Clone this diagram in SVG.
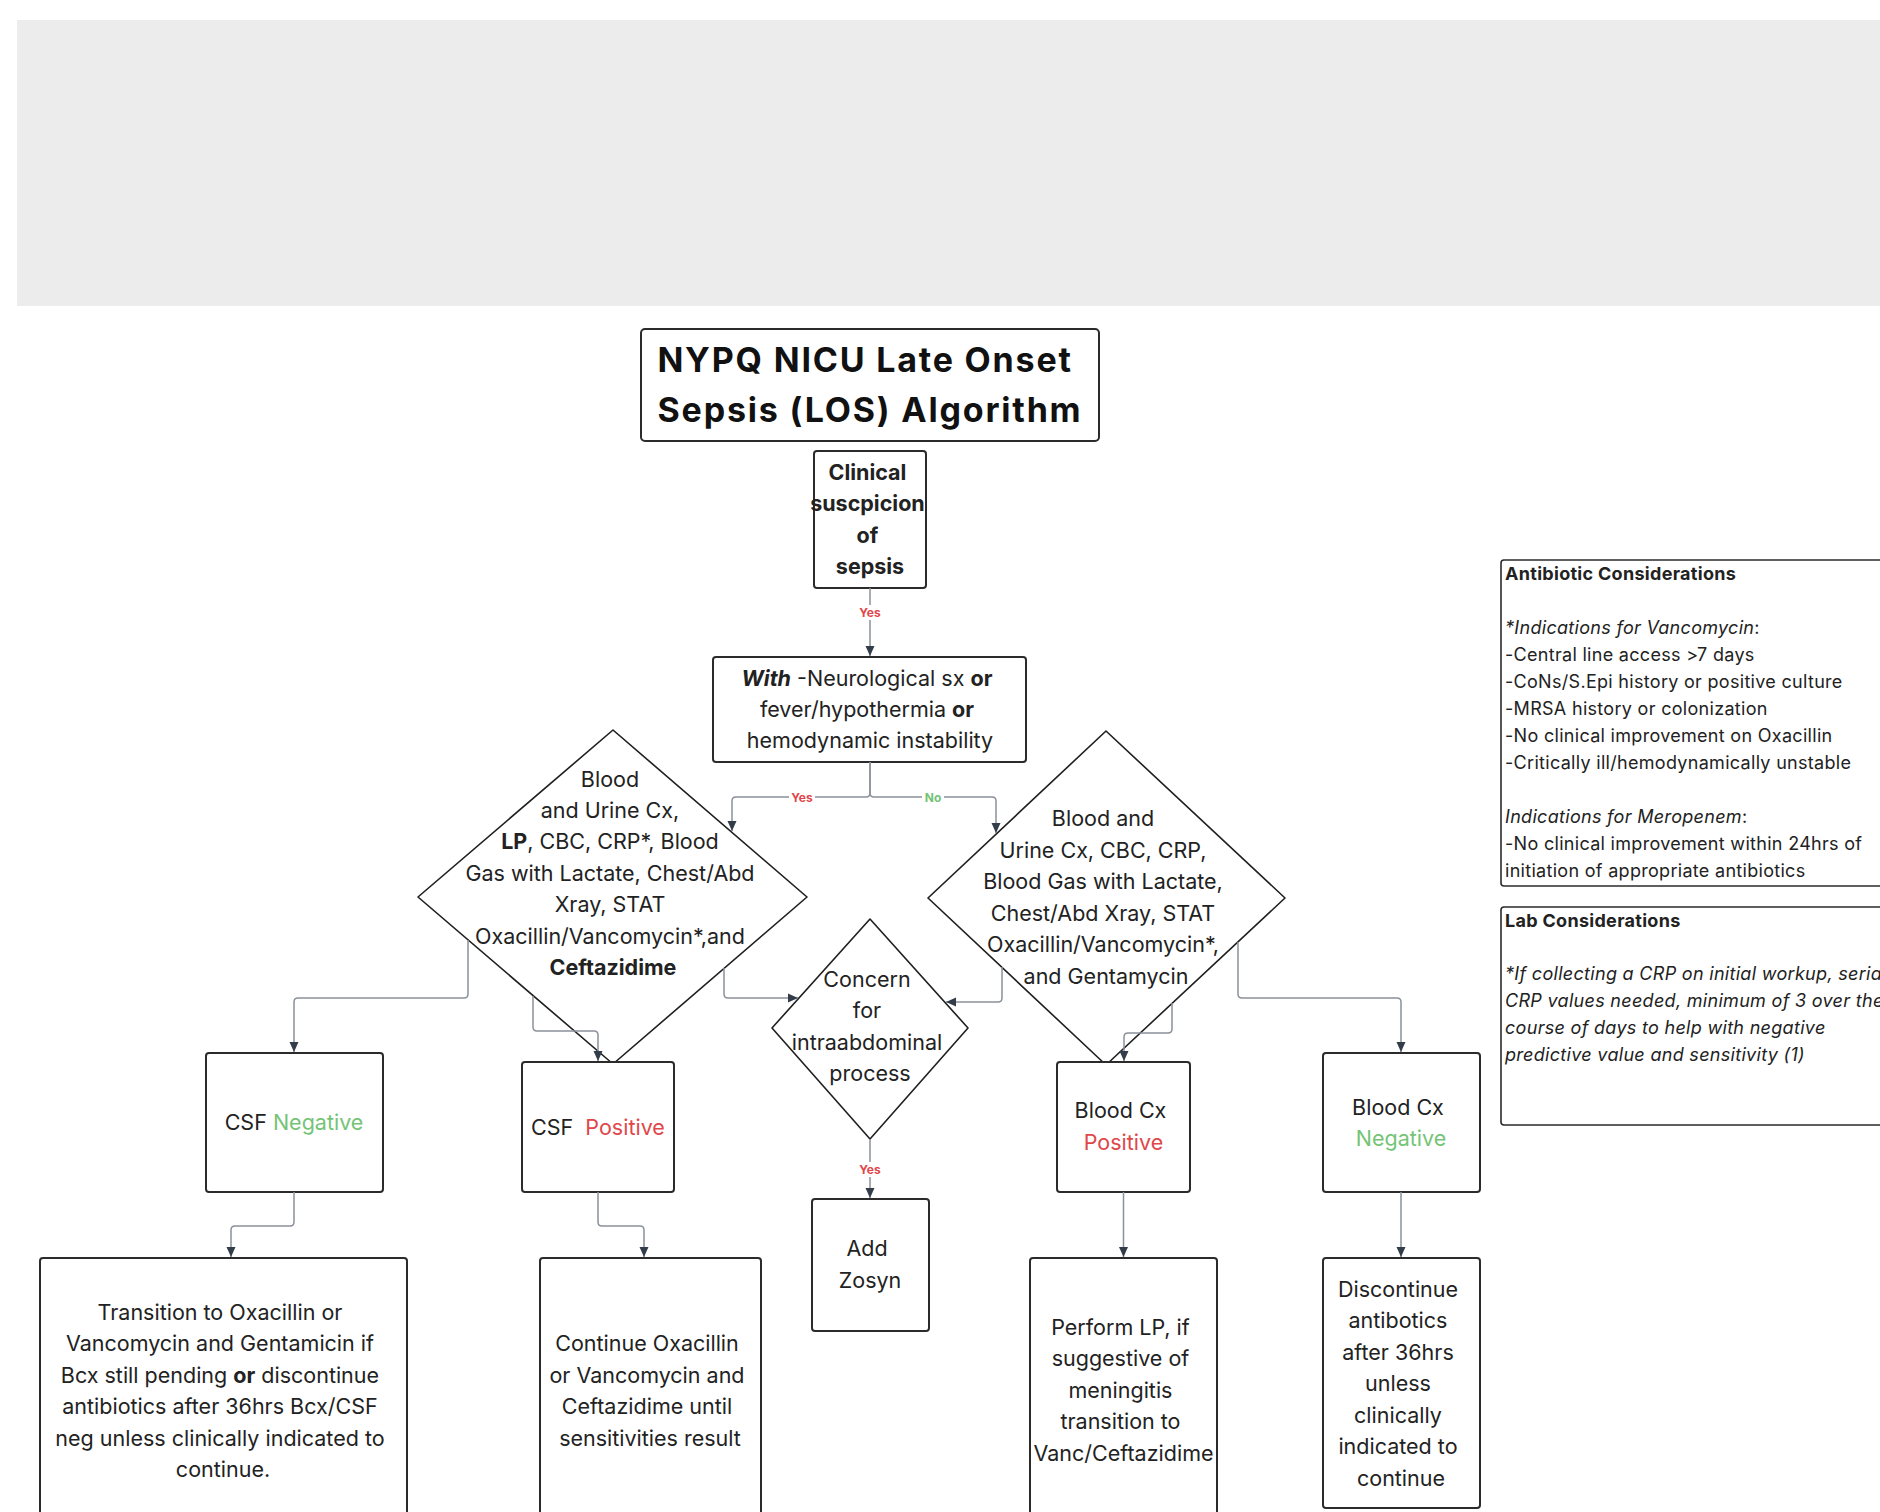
<svg xmlns="http://www.w3.org/2000/svg" width="1880" height="1512" viewBox="0 0 1880 1512">
  <defs>
    <marker id="arrow" markerUnits="userSpaceOnUse" markerWidth="12" markerHeight="12" viewBox="0 0 12 12" refX="11" refY="6" orient="auto">
      <path d="M1,1.5 L11,6 L1,10.5 Z" fill="#333d4a"/>
    </marker>
    <style>
      text { font-family: Inter, "Liberation Sans", sans-serif; fill: #222; }
      .box { fill: #fff; stroke: #2b2b2b; stroke-width: 2; }
      .dia { fill: #fff; stroke: #1f1f1f; stroke-width: 1.6; stroke-linejoin: round; }
      .t20 { font-size: 21.5px; text-anchor: middle; }
      .b { font-weight: 700; }
      .title { font-size: 34px; font-weight: 700; letter-spacing: 1.8px; text-anchor: middle; fill: #111; }
      .note { font-size: 18px; letter-spacing: 0.3px; fill: #222; }
      .it { font-style: italic; }
      .pos { fill: #e0464a; }
      .neg { fill: #74c476; }
      .edge { fill: none; stroke: #8b919a; stroke-width: 1.5; marker-end: url(#arrow); }
      .lbl { font-size: 12px; font-weight: 700; text-anchor: middle; }
      .lblbg { fill: #fff; }
    </style>
  </defs>

  <rect x="0" y="0" width="1880" height="1512" fill="#fff"/>
  <!-- header band -->
  <rect x="17" y="20" width="1863" height="286" fill="#ececec"/>

  <!-- decision diamonds -->
  <g id="node-workup-neuro">
    <polygon class="dia" points="613,730 807,897 613,1064 418,897"/>
    <text class="t20">
      <tspan x="613" y="787">Blood</tspan>
      <tspan x="613" y="818">and Urine Cx,</tspan>
      <tspan x="613" y="849"><tspan class="b">LP</tspan>, CBC, CRP*, Blood</tspan>
      <tspan x="613" y="881">Gas with Lactate, Chest/Abd</tspan>
      <tspan x="613" y="912">Xray, STAT</tspan>
      <tspan x="613" y="944">Oxacillin/Vancomycin*,and</tspan>
      <tspan x="613" y="975" class="b">Ceftazidime</tspan>
    </text>
  </g>
  <g id="node-workup-general">
    <polygon class="dia" points="1106,731 1285,898 1106,1065 928,898"/>
    <text class="t20">
      <tspan x="1106" y="826">Blood and</tspan>
      <tspan x="1106" y="858">Urine Cx, CBC, CRP,</tspan>
      <tspan x="1106" y="889">Blood Gas with Lactate,</tspan>
      <tspan x="1106" y="921">Chest/Abd Xray, STAT</tspan>
      <tspan x="1106" y="952">Oxacillin/Vancomycin*,</tspan>
      <tspan x="1106" y="984">and Gentamycin</tspan>
    </text>
  </g>
  <g id="node-abdominal">
    <polygon class="dia" points="870,919 968,1028 870,1139 772,1028"/>
    <text class="t20">
      <tspan x="870" y="987">Concern</tspan>
      <tspan x="870" y="1018">for</tspan>
      <tspan x="870" y="1050">intraabdominal</tspan>
      <tspan x="870" y="1081">process</tspan>
    </text>
  </g>

  <!-- title and process boxes -->
  <g id="node-title">
    <rect class="box" x="641" y="329" width="458" height="112" rx="4"/>
    <text class="title">
      <tspan x="870" y="372">NYPQ NICU Late Onset</tspan>
      <tspan x="870" y="422">Sepsis (LOS) Algorithm</tspan>
    </text>
  </g>
  <g id="node-suspicion">
    <rect class="box" x="814" y="451" width="112" height="137" rx="3"/>
    <text class="t20 b">
      <tspan x="870" y="480">Clinical</tspan>
      <tspan x="870" y="511">suscpicion</tspan>
      <tspan x="870" y="543">of</tspan>
      <tspan x="870" y="574">sepsis</tspan>
    </text>
  </g>
  <g id="node-symptoms">
    <rect class="box" x="713" y="657" width="313" height="105" rx="3"/>
    <text class="t20">
      <tspan x="870" y="686"><tspan class="b it">With</tspan> -Neurological sx <tspan class="b">or</tspan></tspan>
      <tspan x="870" y="717">fever/hypothermia <tspan class="b">or</tspan></tspan>
      <tspan x="870" y="748">hemodynamic instability</tspan>
    </text>
  </g>
  <g id="node-csf-negative">
    <rect class="box" x="206" y="1053" width="177" height="139" rx="3"/>
    <text class="t20" x="294" y="1130">CSF <tspan class="neg">Negative</tspan></text>
  </g>
  <g id="node-csf-positive">
    <rect class="box" x="522" y="1062" width="152" height="130" rx="3"/>
    <text class="t20" x="598" y="1135">CSF <tspan class="pos" dx="6">Positive</tspan></text>
  </g>
  <g id="node-zosyn">
    <rect class="box" x="812" y="1199" width="117" height="132" rx="3"/>
    <text class="t20">
      <tspan x="870" y="1256">Add</tspan>
      <tspan x="870" y="1288">Zosyn</tspan>
    </text>
  </g>
  <g id="node-bcx-positive">
    <rect class="box" x="1057" y="1062" width="133" height="130" rx="3"/>
    <text class="t20">
      <tspan x="1123.5" y="1118">Blood Cx</tspan>
      <tspan x="1123.5" y="1150" class="pos">Positive</tspan>
    </text>
  </g>
  <g id="node-bcx-negative">
    <rect class="box" x="1323" y="1053" width="157" height="139" rx="3"/>
    <text class="t20">
      <tspan x="1401" y="1115">Blood Cx</tspan>
      <tspan x="1401" y="1146" class="neg">Negative</tspan>
    </text>
  </g>
  <g id="node-transition">
    <rect class="box" x="40" y="1258" width="367" height="275" rx="3"/>
    <text class="t20">
      <tspan x="223" y="1320">Transition to Oxacillin or</tspan>
      <tspan x="223" y="1351">Vancomycin and Gentamicin if</tspan>
      <tspan x="223" y="1383">Bcx still pending <tspan class="b">or</tspan> discontinue</tspan>
      <tspan x="223" y="1414">antibiotics after 36hrs Bcx/CSF</tspan>
      <tspan x="223" y="1446">neg unless clinically indicated to</tspan>
      <tspan x="223" y="1477">continue.</tspan>
    </text>
  </g>
  <g id="node-continue">
    <rect class="box" x="540" y="1258" width="221" height="275" rx="3"/>
    <text class="t20">
      <tspan x="650" y="1351">Continue Oxacillin</tspan>
      <tspan x="650" y="1383">or Vancomycin and</tspan>
      <tspan x="650" y="1414">Ceftazidime until</tspan>
      <tspan x="650" y="1446">sensitivities result</tspan>
    </text>
  </g>
  <g id="node-perform-lp">
    <rect class="box" x="1030" y="1258" width="187" height="275" rx="3"/>
    <text class="t20">
      <tspan x="1123.5" y="1335">Perform LP, if</tspan>
      <tspan x="1123.5" y="1366">suggestive of</tspan>
      <tspan x="1123.5" y="1398">meningitis</tspan>
      <tspan x="1123.5" y="1429">transition to</tspan>
      <tspan x="1123.5" y="1461">Vanc/Ceftazidime</tspan>
    </text>
  </g>
  <g id="node-discontinue">
    <rect class="box" x="1323" y="1258" width="157" height="250" rx="3"/>
    <text class="t20">
      <tspan x="1401" y="1297">Discontinue</tspan>
      <tspan x="1401" y="1328">antibotics</tspan>
      <tspan x="1401" y="1360">after 36hrs</tspan>
      <tspan x="1401" y="1391">unless</tspan>
      <tspan x="1401" y="1423">clinically</tspan>
      <tspan x="1401" y="1454">indicated to</tspan>
      <tspan x="1401" y="1486">continue</tspan>
    </text>
  </g>

  <!-- side notes -->
  <g id="note-antibiotics">
    <rect x="1501" y="560" width="400" height="326" rx="3" fill="#fff" stroke="#2b2b2b" stroke-width="1.6"/>
    <text class="note">
      <tspan x="1505" y="580" class="b">Antibiotic Considerations</tspan>
      <tspan x="1505" y="634"><tspan class="it">*Indications for Vancomycin</tspan>:</tspan>
      <tspan x="1505" y="661">-Central line access &gt;7 days</tspan>
      <tspan x="1505" y="688">-CoNs/S.Epi history or positive culture</tspan>
      <tspan x="1505" y="715">-MRSA history or colonization</tspan>
      <tspan x="1505" y="742">-No clinical improvement on Oxacillin</tspan>
      <tspan x="1505" y="769">-Critically ill/hemodynamically unstable</tspan>
      <tspan x="1505" y="823"><tspan class="it">Indications for Meropenem</tspan>:</tspan>
      <tspan x="1505" y="850">-No clinical improvement within 24hrs of</tspan>
      <tspan x="1505" y="877">initiation of appropriate antibiotics</tspan>
    </text>
  </g>
  <g id="note-labs">
    <rect x="1501" y="907" width="400" height="218" rx="3" fill="#fff" stroke="#2b2b2b" stroke-width="1.6"/>
    <text class="note">
      <tspan x="1505" y="927" class="b">Lab Considerations</tspan>
      <tspan x="1505" y="980" class="it">*If collecting a CRP on initial workup, serial</tspan>
      <tspan x="1505" y="1007" class="it">CRP values needed, minimum of 3 over the</tspan>
      <tspan x="1505" y="1034" class="it">course of days to help with negative</tspan>
      <tspan x="1505" y="1061" class="it">predictive value and sensitivity (1)</tspan>
    </text>
  </g>

  <!-- connectors -->
  <g id="connectors">
    <path class="edge" d="M870,588 V656"/>
    <path class="edge" d="M870,762 V793 Q870,797 866,797 H736 Q732,797 732,801 V831"/>
    <path class="edge" d="M870,762 V793 Q870,797 874,797 H992 Q996,797 996,801 V833"/>
    <path class="edge" d="M468,940 V994 Q468,998 464,998 H298 Q294,998 294,1002 V1052"/>
    <path class="edge" d="M533,996 V1027 Q533,1031 537,1031 H594 Q598,1031 598,1035 V1061"/>
    <path class="edge" d="M724,968 V994 Q724,998 728,998 H798"/>
    <path class="edge" d="M1002,967 V998 Q1002,1002 998,1002 H946"/>
    <path class="edge" d="M1172,1003 V1029 Q1172,1033 1168,1033 H1128 Q1124,1033 1124,1037 V1061"/>
    <path class="edge" d="M1238,942 V994 Q1238,998 1242,998 H1397 Q1401,998 1401,1002 V1052"/>
    <path class="edge" d="M870,1139 V1198"/>
    <path class="edge" d="M294,1192 V1222 Q294,1226 290,1226 H235 Q231,1226 231,1230 V1257"/>
    <path class="edge" d="M598,1192 V1222 Q598,1226 602,1226 H640 Q644,1226 644,1230 V1257"/>
    <path class="edge" d="M1123.5,1192 V1257"/>
    <path class="edge" d="M1401,1192 V1257"/>

    <rect class="lblbg" x="857" y="605" width="26" height="15"/>
    <text class="lbl pos" x="870" y="617">Yes</text>
    <rect class="lblbg" x="789" y="790" width="26" height="15"/>
    <text class="lbl pos" x="802" y="802">Yes</text>
    <rect class="lblbg" x="922" y="790" width="22" height="15"/>
    <text class="lbl neg" x="933" y="802">No</text>
    <rect class="lblbg" x="857" y="1162" width="26" height="15"/>
    <text class="lbl pos" x="870" y="1174">Yes</text>
  </g>
</svg>
